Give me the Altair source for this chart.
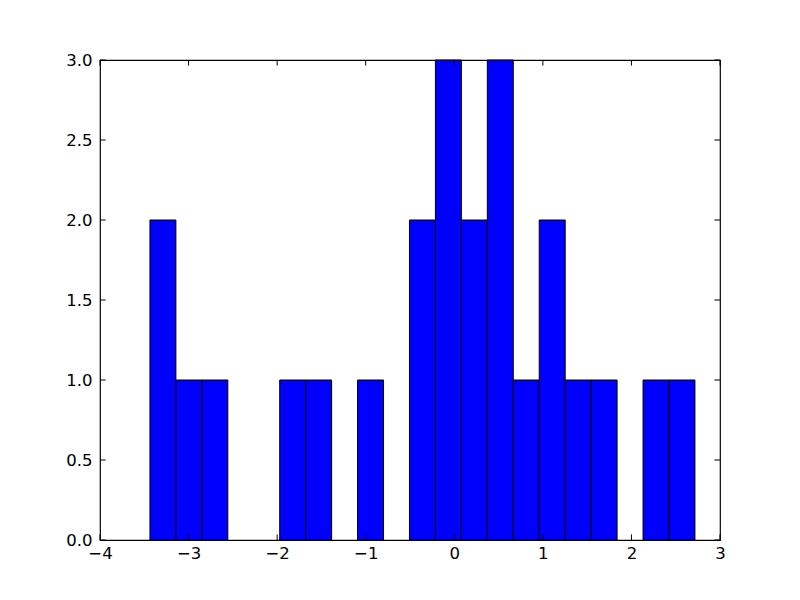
import altair as alt
import pandas as pd

bin_edges = [-3.436, -3.143, -2.850, -2.557, -2.264, -1.971, -1.678, -1.385,
             -1.092, -0.799, -0.506, -0.213, 0.080, 0.373, 0.666, 0.959,
             1.252, 1.545, 1.838, 2.131, 2.424, 2.717]
counts = [2, 1, 1, 0, 0, 1, 1, 0, 1, 0, 2, 3, 2, 3, 1, 2, 1, 1, 0, 1, 1]

x_ticks = [-4, -3, -2, -1, 0, 1, 2, 3]
y_ticks = [0.0, 0.5, 1.0, 1.5, 2.0, 2.5, 3.0]

W, H = 620, 480
TL = 5.6

bars_df = pd.DataFrame({
    "start": bin_edges[:-1],
    "end": bin_edges[1:],
    "count": counts,
})
bars_df = bars_df[bars_df["count"] > 0]

xscale = alt.Scale(domain=[-4, 3], nice=False, zero=False)
yscale = alt.Scale(domain=[0, 3], nice=False)

common = dict(tickSize=0, domain=False, grid=False, labelFont="DejaVu Sans",
              labelFontSize=16.5, labelColor="black", title=None,
              labelFlush=False, labelOverlap=False, labelBound=False)
xaxis = alt.Axis(values=x_ticks, format="d", labelPadding=5, **common)
yaxis = alt.Axis(values=y_ticks, format=".1f", labelPadding=8, **common)

bars = alt.Chart(bars_df).mark_bar(
    color="#0000ff", stroke="black", strokeWidth=1
).encode(
    x=alt.X("start:Q", scale=xscale, axis=xaxis),
    x2="end:Q",
    y=alt.Y("count:Q", scale=yscale, axis=yaxis),
    y2=alt.datum(0),
)

xt_df = pd.DataFrame({"v": x_ticks})
yt_df = pd.DataFrame({"v": y_ticks})

xt_bottom = alt.Chart(xt_df).mark_rule(color="black", strokeWidth=1).encode(
    x=alt.X("v:Q", scale=xscale), y=alt.value(H), y2=alt.value(H - TL))
xt_top = alt.Chart(xt_df).mark_rule(color="black", strokeWidth=1).encode(
    x=alt.X("v:Q", scale=xscale), y=alt.value(0), y2=alt.value(TL))
yt_left = alt.Chart(yt_df).mark_rule(color="black", strokeWidth=1).encode(
    y=alt.Y("v:Q", scale=yscale), x=alt.value(0), x2=alt.value(TL))
yt_right = alt.Chart(yt_df).mark_rule(color="black", strokeWidth=1).encode(
    y=alt.Y("v:Q", scale=yscale), x=alt.value(W), x2=alt.value(W - TL))

chart = alt.layer(bars, xt_bottom, xt_top, yt_left, yt_right).properties(
    width=W, height=H,
    autosize=alt.AutoSizeParams(type="none"),
    padding={"left": 92, "top": 52, "right": 72, "bottom": 52},
    background="white",
).configure_view(stroke="black", strokeWidth=1.2)

chart.save("out.html", embed_options={"renderer": "svg", "actions": False})
